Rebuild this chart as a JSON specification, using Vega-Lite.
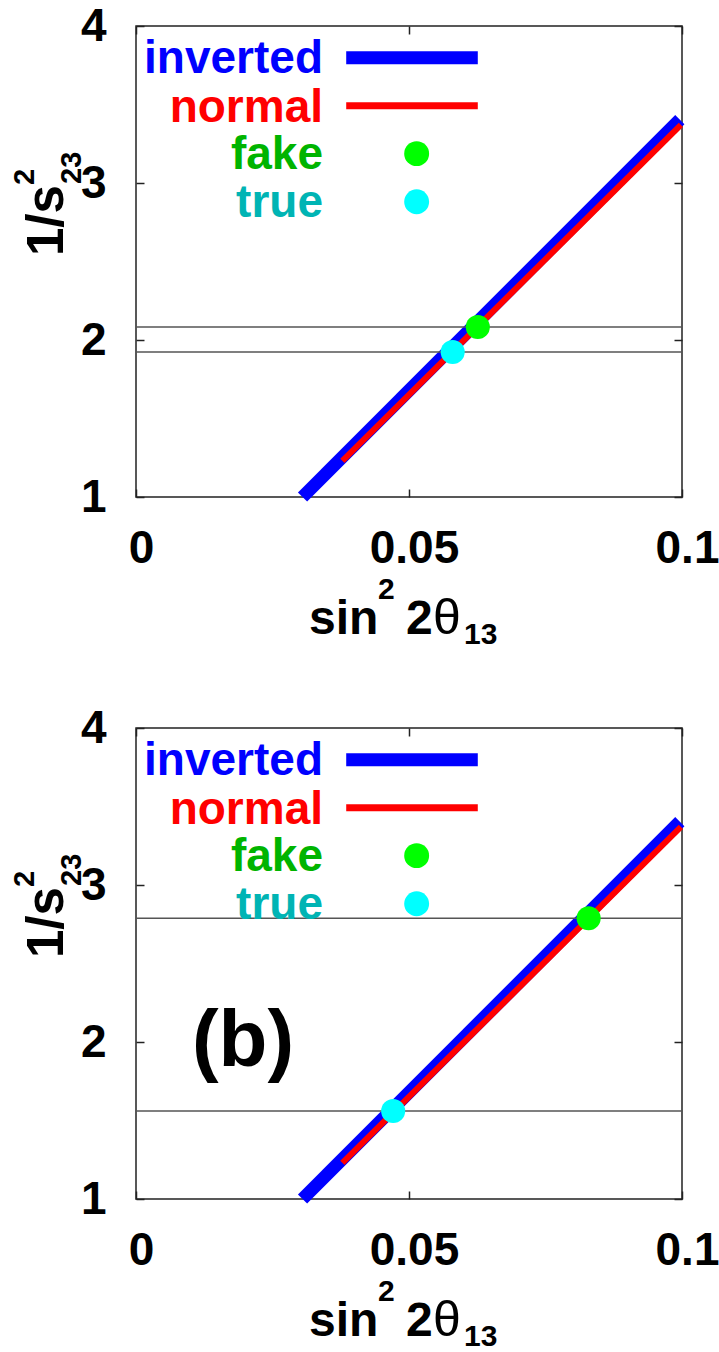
{
  "$schema": "https://vega.github.io/schema/vega-lite/v6.json",
  "autosize": {"type": "pad"},
  "padding": {"left": 10, "top": 2, "right": 0, "bottom": 0},
  "background": "white",
  "datasets": {
    "lines": [
      {"series": "inverted", "sin2": 0.0305, "inv": 1.0},
      {"series": "inverted", "sin2": 0.0996, "inv": 3.404},
      {"series": "normal", "sin2": 0.0378, "inv": 1.23},
      {"series": "normal", "sin2": 0.0998, "inv": 3.37}
    ],
    "pointsA": [
      {"series": "fake", "sin2": 0.0626, "inv": 2.083},
      {"series": "true", "sin2": 0.058, "inv": 1.924}
    ],
    "pointsB": [
      {"series": "fake", "sin2": 0.0829, "inv": 2.788},
      {"series": "true", "sin2": 0.0471, "inv": 1.56}
    ],
    "legend": [
      {"series": "inverted"},
      {"series": "normal"},
      {"series": "fake"},
      {"series": "true"}
    ],
    "note": [{"n": 1}]
  },
  "spacing": 231,
  "bounds": "flush",
  "vconcat": [
    {
      "width": 546,
      "height": 471,
      "resolve": {"axis": {"x": "independent", "y": "independent"}},
      "layer": [
        {
          "data": {"name": "lines"},
          "transform": [{"filter": "datum.series == 'inverted'"}],
          "mark": {"type": "line", "color": "#0000ff", "strokeWidth": 13, "strokeCap": "butt", "clip": false},
          "encoding": {
            "x": {"field": "sin2", "type": "quantitative", "scale": {"domain": [0, 0.1], "nice": false, "zero": false},
                  "axis": {"orient": "bottom", "values": [0, 0.05, 0.1], "format": "~g", "title": null, "labelFlush": false, "labelOffset": 5, "labelPadding": 37, "tickSize": -8}},
            "y": {"field": "inv", "type": "quantitative", "scale": {"domain": [1, 4], "nice": false, "zero": false},
                  "axis": {"orient": "left", "values": [1, 2, 3, 4], "title": null, "labelPadding": 38, "labelDy": 2, "tickSize": -8}}
          }
        },
        {
          "data": {"name": "lines"},
          "transform": [{"filter": "datum.series == 'normal'"}],
          "mark": {"type": "line", "color": "#ff0000", "strokeWidth": 6, "strokeCap": "butt", "clip": false},
          "encoding": {
            "x": {"field": "sin2", "type": "quantitative", "scale": {"domain": [0, 0.1], "nice": false, "zero": false}, "axis": null},
            "y": {"field": "inv", "type": "quantitative", "scale": {"domain": [1, 4], "nice": false, "zero": false}, "axis": null}
          }
        },
        {
          "data": {"name": "pointsA"},
          "mark": {"type": "rule", "color": "#555555", "strokeWidth": 1.5},
          "encoding": {
            "y": {"field": "inv", "type": "quantitative", "scale": {"domain": [1, 4], "nice": false, "zero": false}, "axis": null}
          }
        },
        {
          "data": {"name": "pointsA"},
          "mark": {"type": "circle", "size": 580, "opacity": 1},
          "encoding": {
            "x": {"field": "sin2", "type": "quantitative", "scale": {"domain": [0, 0.1], "nice": false, "zero": false},
                  "axis": {"orient": "top", "values": [0, 0.05, 0.1], "labels": false, "title": null, "tickSize": -8}},
            "y": {"field": "inv", "type": "quantitative", "scale": {"domain": [1, 4], "nice": false, "zero": false},
                  "axis": {"orient": "right", "values": [1, 2, 3, 4], "labels": false, "title": null, "tickSize": -8}},
            "color": {"field": "series", "type": "nominal", "scale": {"domain": ["fake", "true"], "range": ["#00ff00", "#00ffff"]}, "legend": null}
          }
        },
        {
          "data": {"name": "legend"},
          "transform": [{"filter": "datum.series == 'inverted'"}],
          "mark": {"type": "text", "align": "right", "baseline": "alphabetic", "font": "Liberation Sans", "fontSize": 46, "fontWeight": "bold", "color": "#0000ff"},
          "encoding": {
            "x": {"datum": 0.03425, "type": "quantitative", "scale": {"domain": [0, 0.1], "nice": false, "zero": false}, "axis": null},
            "y": {"datum": 3.70, "type": "quantitative", "scale": {"domain": [1, 4], "nice": false, "zero": false}, "axis": null},
            "text": {"field": "series"}
          }
        },
        {
          "data": {"name": "legend"},
          "transform": [{"filter": "datum.series == 'normal'"}],
          "mark": {"type": "text", "align": "right", "baseline": "alphabetic", "font": "Liberation Sans", "fontSize": 46, "fontWeight": "bold", "color": "#ff0000"},
          "encoding": {
            "x": {"datum": 0.03425, "type": "quantitative", "scale": {"domain": [0, 0.1], "nice": false, "zero": false}, "axis": null},
            "y": {"datum": 3.39, "type": "quantitative", "scale": {"domain": [1, 4], "nice": false, "zero": false}, "axis": null},
            "text": {"field": "series"}
          }
        },
        {
          "data": {"name": "legend"},
          "transform": [{"filter": "datum.series == 'fake'"}],
          "mark": {"type": "text", "align": "right", "baseline": "alphabetic", "font": "Liberation Sans", "fontSize": 46, "fontWeight": "bold", "color": "#00b400"},
          "encoding": {
            "x": {"datum": 0.03425, "type": "quantitative", "scale": {"domain": [0, 0.1], "nice": false, "zero": false}, "axis": null},
            "y": {"datum": 3.09, "type": "quantitative", "scale": {"domain": [1, 4], "nice": false, "zero": false}, "axis": null},
            "text": {"field": "series"}
          }
        },
        {
          "data": {"name": "legend"},
          "transform": [{"filter": "datum.series == 'true'"}],
          "mark": {"type": "text", "align": "right", "baseline": "alphabetic", "font": "Liberation Sans", "fontSize": 46, "fontWeight": "bold", "color": "#00b4b4"},
          "encoding": {
            "x": {"datum": 0.03425, "type": "quantitative", "scale": {"domain": [0, 0.1], "nice": false, "zero": false}, "axis": null},
            "y": {"datum": 2.785, "type": "quantitative", "scale": {"domain": [1, 4], "nice": false, "zero": false}, "axis": null},
            "text": {"field": "series"}
          }
        },
        {
          "data": {"name": "legend"},
          "transform": [{"filter": "datum.series == 'inverted'"}],
          "mark": {"type": "rule", "color": "#0000ff", "strokeWidth": 13, "strokeCap": "butt"},
          "encoding": {
            "x": {"datum": 0.0385, "type": "quantitative", "scale": {"domain": [0, 0.1], "nice": false, "zero": false}, "axis": null},
            "x2": {"datum": 0.0626},
            "y": {"datum": 3.798, "type": "quantitative", "scale": {"domain": [1, 4], "nice": false, "zero": false}, "axis": null}
          }
        },
        {
          "data": {"name": "legend"},
          "transform": [{"filter": "datum.series == 'normal'"}],
          "mark": {"type": "rule", "color": "#ff0000", "strokeWidth": 7, "strokeCap": "butt"},
          "encoding": {
            "x": {"datum": 0.0385, "type": "quantitative", "scale": {"domain": [0, 0.1], "nice": false, "zero": false}, "axis": null},
            "x2": {"datum": 0.0626},
            "y": {"datum": 3.492, "type": "quantitative", "scale": {"domain": [1, 4], "nice": false, "zero": false}, "axis": null}
          }
        },
        {
          "data": {"name": "legend"},
          "transform": [{"filter": "datum.series == 'fake'"}],
          "mark": {"type": "circle", "size": 620, "opacity": 1, "color": "#00ff00"},
          "encoding": {
            "x": {"datum": 0.0514, "type": "quantitative", "scale": {"domain": [0, 0.1], "nice": false, "zero": false}, "axis": null},
            "y": {"datum": 3.187, "type": "quantitative", "scale": {"domain": [1, 4], "nice": false, "zero": false}, "axis": null}
          }
        },
        {
          "data": {"name": "legend"},
          "transform": [{"filter": "datum.series == 'true'"}],
          "mark": {"type": "circle", "size": 620, "opacity": 1, "color": "#00ffff"},
          "encoding": {
            "x": {"datum": 0.0514, "type": "quantitative", "scale": {"domain": [0, 0.1], "nice": false, "zero": false}, "axis": null},
            "y": {"datum": 2.881, "type": "quantitative", "scale": {"domain": [1, 4], "nice": false, "zero": false}, "axis": null}
          }
        },
        {
          "data": {"name": "note"},
          "mark": {"type": "text", "text": "1/s", "angle": 270, "align": "left", "baseline": "alphabetic", "font": "Liberation Sans", "fontSize": 51, "fontWeight": "bold", "color": "#000000"},
          "encoding": {
            "x": {"datum": -0.01337, "type": "quantitative", "scale": {"domain": [0, 0.1], "nice": false, "zero": false}, "axis": null},
            "y": {"datum": 2.535, "type": "quantitative", "scale": {"domain": [1, 4], "nice": false, "zero": false}, "axis": null}
          }
        },
        {
          "data": {"name": "note"},
          "mark": {"type": "text", "text": "2", "angle": 270, "align": "left", "baseline": "alphabetic", "font": "Liberation Sans", "fontSize": 29, "fontWeight": "bold", "color": "#000000"},
          "encoding": {
            "x": {"datum": -0.01868, "type": "quantitative", "scale": {"domain": [0, 0.1], "nice": false, "zero": false}, "axis": null},
            "y": {"datum": 2.987, "type": "quantitative", "scale": {"domain": [1, 4], "nice": false, "zero": false}, "axis": null}
          }
        },
        {
          "data": {"name": "note"},
          "mark": {"type": "text", "text": "23", "angle": 270, "align": "left", "baseline": "alphabetic", "font": "Liberation Sans", "fontSize": 29, "fontWeight": "bold", "color": "#000000"},
          "encoding": {
            "x": {"datum": -0.01007, "type": "quantitative", "scale": {"domain": [0, 0.1], "nice": false, "zero": false}, "axis": null},
            "y": {"datum": 2.994, "type": "quantitative", "scale": {"domain": [1, 4], "nice": false, "zero": false}, "axis": null}
          }
        },
        {
          "data": {"name": "note"},
          "mark": {"type": "text", "text": "sin", "align": "left", "baseline": "alphabetic", "font": "Liberation Sans", "fontSize": 48, "fontWeight": "bold", "color": "#000000"},
          "encoding": {
            "x": {"datum": 0.0317, "type": "quantitative", "scale": {"domain": [0, 0.1], "nice": false, "zero": false}, "axis": null},
            "y": {"datum": 0.1274, "type": "quantitative", "scale": {"domain": [1, 4], "nice": false, "zero": false}, "axis": null}
          }
        },
        {
          "data": {"name": "note"},
          "mark": {"type": "text", "text": "2", "align": "left", "baseline": "alphabetic", "font": "Liberation Sans", "fontSize": 30, "fontWeight": "bold", "color": "#000000"},
          "encoding": {
            "x": {"datum": 0.04432, "type": "quantitative", "scale": {"domain": [0, 0.1], "nice": false, "zero": false}, "axis": null},
            "y": {"datum": 0.35, "type": "quantitative", "scale": {"domain": [1, 4], "nice": false, "zero": false}, "axis": null}
          }
        },
        {
          "data": {"name": "note"},
          "mark": {"type": "text", "text": "2", "align": "left", "baseline": "alphabetic", "font": "Liberation Sans", "fontSize": 48, "fontWeight": "bold", "color": "#000000"},
          "encoding": {
            "x": {"datum": 0.04945, "type": "quantitative", "scale": {"domain": [0, 0.1], "nice": false, "zero": false}, "axis": null},
            "y": {"datum": 0.1274, "type": "quantitative", "scale": {"domain": [1, 4], "nice": false, "zero": false}, "axis": null}
          }
        },
        {
          "data": {"name": "note"},
          "mark": {"type": "text", "text": "θ", "align": "left", "baseline": "alphabetic", "font": "Liberation Sans", "fontSize": 50, "fontWeight": "normal", "color": "#000000"},
          "encoding": {
            "x": {"datum": 0.0544, "type": "quantitative", "scale": {"domain": [0, 0.1], "nice": false, "zero": false}, "axis": null},
            "y": {"datum": 0.1274, "type": "quantitative", "scale": {"domain": [1, 4], "nice": false, "zero": false}, "axis": null}
          }
        },
        {
          "data": {"name": "note"},
          "mark": {"type": "text", "text": "13", "align": "left", "baseline": "alphabetic", "font": "Liberation Sans", "fontSize": 30, "fontWeight": "bold", "color": "#000000"},
          "encoding": {
            "x": {"datum": 0.06007, "type": "quantitative", "scale": {"domain": [0, 0.1], "nice": false, "zero": false}, "axis": null},
            "y": {"datum": 0.0637, "type": "quantitative", "scale": {"domain": [1, 4], "nice": false, "zero": false}, "axis": null}
          }
        }
      ]
    },
    {
      "width": 546,
      "height": 471,
      "resolve": {"axis": {"x": "independent", "y": "independent"}},
      "layer": [
        {
          "data": {"name": "lines"},
          "transform": [{"filter": "datum.series == 'inverted'"}],
          "mark": {"type": "line", "color": "#0000ff", "strokeWidth": 13, "strokeCap": "butt", "clip": false},
          "encoding": {
            "x": {"field": "sin2", "type": "quantitative", "scale": {"domain": [0, 0.1], "nice": false, "zero": false},
                  "axis": {"orient": "bottom", "values": [0, 0.05, 0.1], "format": "~g", "title": null, "labelFlush": false, "labelOffset": 5, "labelPadding": 37, "tickSize": -8}},
            "y": {"field": "inv", "type": "quantitative", "scale": {"domain": [1, 4], "nice": false, "zero": false},
                  "axis": {"orient": "left", "values": [1, 2, 3, 4], "title": null, "labelPadding": 38, "labelDy": 2, "tickSize": -8}}
          }
        },
        {
          "data": {"name": "lines"},
          "transform": [{"filter": "datum.series == 'normal'"}],
          "mark": {"type": "line", "color": "#ff0000", "strokeWidth": 6, "strokeCap": "butt", "clip": false},
          "encoding": {
            "x": {"field": "sin2", "type": "quantitative", "scale": {"domain": [0, 0.1], "nice": false, "zero": false}, "axis": null},
            "y": {"field": "inv", "type": "quantitative", "scale": {"domain": [1, 4], "nice": false, "zero": false}, "axis": null}
          }
        },
        {
          "data": {"name": "pointsB"},
          "mark": {"type": "rule", "color": "#555555", "strokeWidth": 1.5},
          "encoding": {
            "y": {"field": "inv", "type": "quantitative", "scale": {"domain": [1, 4], "nice": false, "zero": false}, "axis": null}
          }
        },
        {
          "data": {"name": "pointsB"},
          "mark": {"type": "circle", "size": 580, "opacity": 1},
          "encoding": {
            "x": {"field": "sin2", "type": "quantitative", "scale": {"domain": [0, 0.1], "nice": false, "zero": false},
                  "axis": {"orient": "top", "values": [0, 0.05, 0.1], "labels": false, "title": null, "tickSize": -8}},
            "y": {"field": "inv", "type": "quantitative", "scale": {"domain": [1, 4], "nice": false, "zero": false},
                  "axis": {"orient": "right", "values": [1, 2, 3, 4], "labels": false, "title": null, "tickSize": -8}},
            "color": {"field": "series", "type": "nominal", "scale": {"domain": ["fake", "true"], "range": ["#00ff00", "#00ffff"]}, "legend": null}
          }
        },
        {
          "data": {"name": "legend"},
          "transform": [{"filter": "datum.series == 'inverted'"}],
          "mark": {"type": "text", "align": "right", "baseline": "alphabetic", "font": "Liberation Sans", "fontSize": 46, "fontWeight": "bold", "color": "#0000ff"},
          "encoding": {
            "x": {"datum": 0.03425, "type": "quantitative", "scale": {"domain": [0, 0.1], "nice": false, "zero": false}, "axis": null},
            "y": {"datum": 3.70, "type": "quantitative", "scale": {"domain": [1, 4], "nice": false, "zero": false}, "axis": null},
            "text": {"field": "series"}
          }
        },
        {
          "data": {"name": "legend"},
          "transform": [{"filter": "datum.series == 'normal'"}],
          "mark": {"type": "text", "align": "right", "baseline": "alphabetic", "font": "Liberation Sans", "fontSize": 46, "fontWeight": "bold", "color": "#ff0000"},
          "encoding": {
            "x": {"datum": 0.03425, "type": "quantitative", "scale": {"domain": [0, 0.1], "nice": false, "zero": false}, "axis": null},
            "y": {"datum": 3.39, "type": "quantitative", "scale": {"domain": [1, 4], "nice": false, "zero": false}, "axis": null},
            "text": {"field": "series"}
          }
        },
        {
          "data": {"name": "legend"},
          "transform": [{"filter": "datum.series == 'fake'"}],
          "mark": {"type": "text", "align": "right", "baseline": "alphabetic", "font": "Liberation Sans", "fontSize": 46, "fontWeight": "bold", "color": "#00b400"},
          "encoding": {
            "x": {"datum": 0.03425, "type": "quantitative", "scale": {"domain": [0, 0.1], "nice": false, "zero": false}, "axis": null},
            "y": {"datum": 3.09, "type": "quantitative", "scale": {"domain": [1, 4], "nice": false, "zero": false}, "axis": null},
            "text": {"field": "series"}
          }
        },
        {
          "data": {"name": "legend"},
          "transform": [{"filter": "datum.series == 'true'"}],
          "mark": {"type": "text", "align": "right", "baseline": "alphabetic", "font": "Liberation Sans", "fontSize": 46, "fontWeight": "bold", "color": "#00b4b4"},
          "encoding": {
            "x": {"datum": 0.03425, "type": "quantitative", "scale": {"domain": [0, 0.1], "nice": false, "zero": false}, "axis": null},
            "y": {"datum": 2.785, "type": "quantitative", "scale": {"domain": [1, 4], "nice": false, "zero": false}, "axis": null},
            "text": {"field": "series"}
          }
        },
        {
          "data": {"name": "legend"},
          "transform": [{"filter": "datum.series == 'inverted'"}],
          "mark": {"type": "rule", "color": "#0000ff", "strokeWidth": 13, "strokeCap": "butt"},
          "encoding": {
            "x": {"datum": 0.0385, "type": "quantitative", "scale": {"domain": [0, 0.1], "nice": false, "zero": false}, "axis": null},
            "x2": {"datum": 0.0626},
            "y": {"datum": 3.798, "type": "quantitative", "scale": {"domain": [1, 4], "nice": false, "zero": false}, "axis": null}
          }
        },
        {
          "data": {"name": "legend"},
          "transform": [{"filter": "datum.series == 'normal'"}],
          "mark": {"type": "rule", "color": "#ff0000", "strokeWidth": 7, "strokeCap": "butt"},
          "encoding": {
            "x": {"datum": 0.0385, "type": "quantitative", "scale": {"domain": [0, 0.1], "nice": false, "zero": false}, "axis": null},
            "x2": {"datum": 0.0626},
            "y": {"datum": 3.492, "type": "quantitative", "scale": {"domain": [1, 4], "nice": false, "zero": false}, "axis": null}
          }
        },
        {
          "data": {"name": "legend"},
          "transform": [{"filter": "datum.series == 'fake'"}],
          "mark": {"type": "circle", "size": 620, "opacity": 1, "color": "#00ff00"},
          "encoding": {
            "x": {"datum": 0.0514, "type": "quantitative", "scale": {"domain": [0, 0.1], "nice": false, "zero": false}, "axis": null},
            "y": {"datum": 3.187, "type": "quantitative", "scale": {"domain": [1, 4], "nice": false, "zero": false}, "axis": null}
          }
        },
        {
          "data": {"name": "legend"},
          "transform": [{"filter": "datum.series == 'true'"}],
          "mark": {"type": "circle", "size": 620, "opacity": 1, "color": "#00ffff"},
          "encoding": {
            "x": {"datum": 0.0514, "type": "quantitative", "scale": {"domain": [0, 0.1], "nice": false, "zero": false}, "axis": null},
            "y": {"datum": 2.881, "type": "quantitative", "scale": {"domain": [1, 4], "nice": false, "zero": false}, "axis": null}
          }
        },
        {
          "data": {"name": "note"},
          "mark": {"type": "text", "text": "(b)", "align": "center", "baseline": "middle", "font": "Liberation Sans", "fontSize": 80, "fontWeight": "bold", "color": "#000000"},
          "encoding": {
            "x": {"datum": 0.0196, "type": "quantitative", "scale": {"domain": [0, 0.1], "nice": false, "zero": false}, "axis": null},
            "y": {"datum": 2.0, "type": "quantitative", "scale": {"domain": [1, 4], "nice": false, "zero": false}, "axis": null}
          }
        },
        {
          "data": {"name": "note"},
          "mark": {"type": "text", "text": "1/s", "angle": 270, "align": "left", "baseline": "alphabetic", "font": "Liberation Sans", "fontSize": 51, "fontWeight": "bold", "color": "#000000"},
          "encoding": {
            "x": {"datum": -0.01337, "type": "quantitative", "scale": {"domain": [0, 0.1], "nice": false, "zero": false}, "axis": null},
            "y": {"datum": 2.535, "type": "quantitative", "scale": {"domain": [1, 4], "nice": false, "zero": false}, "axis": null}
          }
        },
        {
          "data": {"name": "note"},
          "mark": {"type": "text", "text": "2", "angle": 270, "align": "left", "baseline": "alphabetic", "font": "Liberation Sans", "fontSize": 29, "fontWeight": "bold", "color": "#000000"},
          "encoding": {
            "x": {"datum": -0.01868, "type": "quantitative", "scale": {"domain": [0, 0.1], "nice": false, "zero": false}, "axis": null},
            "y": {"datum": 2.987, "type": "quantitative", "scale": {"domain": [1, 4], "nice": false, "zero": false}, "axis": null}
          }
        },
        {
          "data": {"name": "note"},
          "mark": {"type": "text", "text": "23", "angle": 270, "align": "left", "baseline": "alphabetic", "font": "Liberation Sans", "fontSize": 29, "fontWeight": "bold", "color": "#000000"},
          "encoding": {
            "x": {"datum": -0.01007, "type": "quantitative", "scale": {"domain": [0, 0.1], "nice": false, "zero": false}, "axis": null},
            "y": {"datum": 2.994, "type": "quantitative", "scale": {"domain": [1, 4], "nice": false, "zero": false}, "axis": null}
          }
        },
        {
          "data": {"name": "note"},
          "mark": {"type": "text", "text": "sin", "align": "left", "baseline": "alphabetic", "font": "Liberation Sans", "fontSize": 48, "fontWeight": "bold", "color": "#000000"},
          "encoding": {
            "x": {"datum": 0.0317, "type": "quantitative", "scale": {"domain": [0, 0.1], "nice": false, "zero": false}, "axis": null},
            "y": {"datum": 0.1274, "type": "quantitative", "scale": {"domain": [1, 4], "nice": false, "zero": false}, "axis": null}
          }
        },
        {
          "data": {"name": "note"},
          "mark": {"type": "text", "text": "2", "align": "left", "baseline": "alphabetic", "font": "Liberation Sans", "fontSize": 30, "fontWeight": "bold", "color": "#000000"},
          "encoding": {
            "x": {"datum": 0.04432, "type": "quantitative", "scale": {"domain": [0, 0.1], "nice": false, "zero": false}, "axis": null},
            "y": {"datum": 0.35, "type": "quantitative", "scale": {"domain": [1, 4], "nice": false, "zero": false}, "axis": null}
          }
        },
        {
          "data": {"name": "note"},
          "mark": {"type": "text", "text": "2", "align": "left", "baseline": "alphabetic", "font": "Liberation Sans", "fontSize": 48, "fontWeight": "bold", "color": "#000000"},
          "encoding": {
            "x": {"datum": 0.04945, "type": "quantitative", "scale": {"domain": [0, 0.1], "nice": false, "zero": false}, "axis": null},
            "y": {"datum": 0.1274, "type": "quantitative", "scale": {"domain": [1, 4], "nice": false, "zero": false}, "axis": null}
          }
        },
        {
          "data": {"name": "note"},
          "mark": {"type": "text", "text": "θ", "align": "left", "baseline": "alphabetic", "font": "Liberation Sans", "fontSize": 50, "fontWeight": "normal", "color": "#000000"},
          "encoding": {
            "x": {"datum": 0.0544, "type": "quantitative", "scale": {"domain": [0, 0.1], "nice": false, "zero": false}, "axis": null},
            "y": {"datum": 0.1274, "type": "quantitative", "scale": {"domain": [1, 4], "nice": false, "zero": false}, "axis": null}
          }
        },
        {
          "data": {"name": "note"},
          "mark": {"type": "text", "text": "13", "align": "left", "baseline": "alphabetic", "font": "Liberation Sans", "fontSize": 30, "fontWeight": "bold", "color": "#000000"},
          "encoding": {
            "x": {"datum": 0.06007, "type": "quantitative", "scale": {"domain": [0, 0.1], "nice": false, "zero": false}, "axis": null},
            "y": {"datum": 0.0637, "type": "quantitative", "scale": {"domain": [1, 4], "nice": false, "zero": false}, "axis": null}
          }
        }
      ]
    }
  ],
  "config": {
    "view": {"stroke": "#222222", "strokeWidth": 1.5},
    "axis": {
      "domain": false,
      "grid": false,
      "labelFont": "Liberation Sans",
      "labelFontSize": 46,
      "labelFontWeight": "bold",
      "labelColor": "#000000",
      "tickColor": "#222222",
      "tickWidth": 1.5,
      "labelOverlap": false,
      "labelBound": false
    }
  }
}
